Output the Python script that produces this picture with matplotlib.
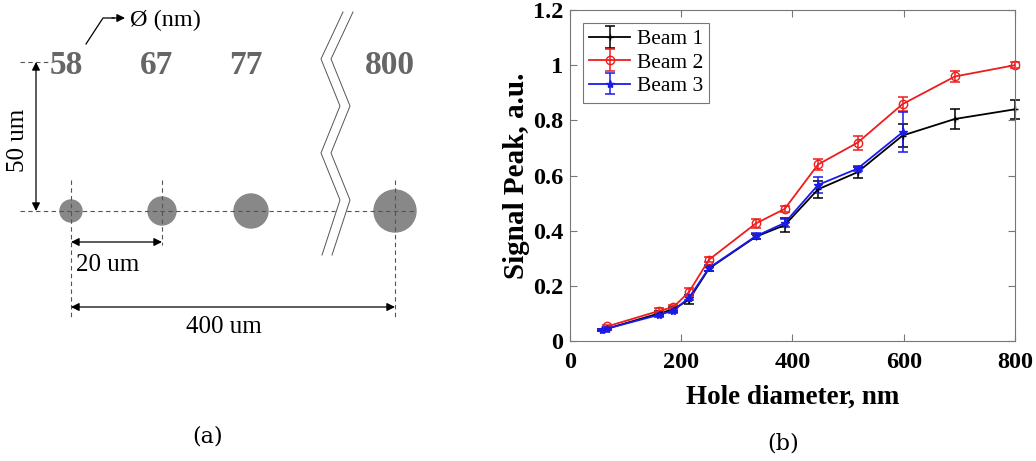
import matplotlib
matplotlib.use("Agg")
import matplotlib.pyplot as plt
from matplotlib.patches import Circle

# ---- dados ----
diam_labels = ["58", "67", "77", "800"]

x_b1 = [58, 67, 160, 186, 214, 250, 334, 386, 446, 517, 598, 692, 800]
y_b1 = [0.040, 0.045, 0.100, 0.115, 0.150, 0.263, 0.378, 0.420, 0.550, 0.612, 0.745, 0.805, 0.840]
e_b1 = [0.005, 0.005, 0.008, 0.010, 0.015, 0.010, 0.010, 0.025, 0.030, 0.020, 0.040, 0.035, 0.035]

x_b2 = [67, 160, 186, 214, 250, 334, 386, 446, 517, 598, 692, 800]
y_b2 = [0.053, 0.109, 0.123, 0.178, 0.295, 0.426, 0.479, 0.640, 0.719, 0.859, 0.959, 1.000]
e_b2 = [0.005, 0.010, 0.008, 0.015, 0.010, 0.015, 0.010, 0.020, 0.025, 0.025, 0.020, 0.010]

x_b3 = [58, 67, 160, 186, 214, 250, 334, 386, 446, 517, 598]
y_b3 = [0.040, 0.045, 0.095, 0.110, 0.157, 0.265, 0.380, 0.428, 0.566, 0.625, 0.757]
e_b3 = [0.005, 0.005, 0.008, 0.008, 0.010, 0.010, 0.010, 0.015, 0.030, 0.010, 0.072]

plt.rcParams["font.family"] = ["Liberation Serif", "DejaVu Serif"]

fig = plt.figure(figsize=(10.36, 4.61), dpi=100)

# ---------- painel (a): esquema em coordenadas de pixel ----------
ax0 = fig.add_axes([0, 0, 1, 1])
ax0.set_xlim(0, 1036)
ax0.set_ylim(461, 0)
ax0.axis("off")

cinza = "#888888"
tracejado = dict(color="#555555", lw=0.8, ls=(0, (4, 3)))
xs = [71, 162, 251, 395]
raios = [11, 14, 17, 21]
for x, r, lab in zip(xs, raios, diam_labels):
    ax0.add_patch(Circle((x, 211), r, color=cinza, zorder=1))
    ax0.text(x - 5, 66, lab, ha="center", va="center", fontsize=24,
             fontweight="bold", color="#666666")

ax0.plot([20, 415], [211, 211], **tracejado, zorder=2)
ax0.plot([20, 52], [62, 62], **tracejado)
for x, y1 in [(71, 318), (162, 245), (395, 318)]:
    ax0.plot([x, x], [180, y1], **tracejado, zorder=2)

seta = dict(arrowstyle="<|-|>", color="black", lw=0.9, mutation_scale=12,
            shrinkA=0, shrinkB=0)
ax0.annotate("", xy=(36, 62), xytext=(36, 211), arrowprops=seta)
ax0.annotate("", xy=(71, 242), xytext=(162, 242), arrowprops=seta)
ax0.annotate("", xy=(71, 307), xytext=(395, 307), arrowprops=seta)
ax0.text(18, 140, "50 um", rotation=90, ha="center", va="center", fontsize=18)
ax0.text(76, 265, "20 um", ha="left", va="center", fontsize=18)
ax0.text(224, 327, "400 um", ha="center", va="center", fontsize=18)

ax0.plot([86, 103, 114], [44, 18, 18], color="black", lw=0.9)
ax0.annotate("", xy=(125, 18), xytext=(112, 18),
             arrowprops=dict(arrowstyle="-|>", color="black", lw=0.9,
                             mutation_scale=12, shrinkA=0, shrinkB=0))
ax0.text(130, 20, "Ø (nm)", ha="left", va="center", fontsize=17.5)

zx = [343, 321, 340, 321, 340, 322]
zy = [12, 59, 106, 153, 200, 255]
ax0.fill(zx + [x + 10 for x in zx[::-1]], zy + zy[::-1], color="white", zorder=3)
ax0.plot(zx, zy, color="#555555", lw=0.7, zorder=4)
ax0.plot([x + 10 for x in zx], zy, color="#555555", lw=0.7, zorder=4)

ax0.text(208, 436, "(a)", ha="center", va="center", fontsize=16, family="DejaVu Serif")
ax0.text(783, 443, "(b)", ha="center", va="center", fontsize=16, family="DejaVu Serif")

# ---------- painel (b): gráfico ----------
ax = fig.add_axes([0.5502, 0.2603, 0.4295, 0.7180])
kw = dict(lw=1.3, capsize=3.5, elinewidth=1.1, capthick=1.1)
series = [
    ax.errorbar(x_b1, y_b1, yerr=e_b1, color="black", marker="+", ms=5,
                label="Beam 1", **kw),
    ax.errorbar(x_b2, y_b2, yerr=e_b2, color="#ee1c1c", marker="o", ms=6,
                mfc="none", label="Beam 2", **kw),
    ax.errorbar(x_b3, y_b3, yerr=e_b3, color="#1a1aee", marker="*", ms=6,
                label="Beam 3", **kw),
]
for cont in series:
    for art in cont.get_children():
        art.set_clip_on(False)

ax.set_xlim(0, 800)
ax.set_ylim(0, 1.2)
ax.set_xticks([0, 200, 400, 600, 800])
ax.set_yticks([0, 0.2, 0.4, 0.6, 0.8, 1.0, 1.2])
ax.set_yticklabels(["0", "0.2", "0.4", "0.6", "0.8", "1", "1.2"])
ax.tick_params(direction="in", top=True, right=True, length=5, color="#777777",
               labelsize=17.5)
ax.tick_params(axis="x", pad=8)
ax.tick_params(axis="y", pad=5)
for lab in ax.get_xticklabels() + ax.get_yticklabels():
    lab.set_fontweight("bold")
for s in ax.spines.values():
    s.set_color("#777777")
ax.set_xlabel("Hole diameter, nm", fontsize=19.5, fontweight="bold", labelpad=8)
ax.set_ylabel("Signal Peak, a.u.", fontsize=21, fontweight="bold", labelpad=2)

leg = ax.legend(loc="upper left", fontsize=15.5, frameon=True, fancybox=False,
                borderpad=0.3, labelspacing=0.15, handlelength=1.9,
                handletextpad=0.3, borderaxespad=0.6)
leg.get_frame().set_edgecolor("#555555")
leg.get_frame().set_linewidth(0.8)

fig.savefig("out.png", dpi=100)
